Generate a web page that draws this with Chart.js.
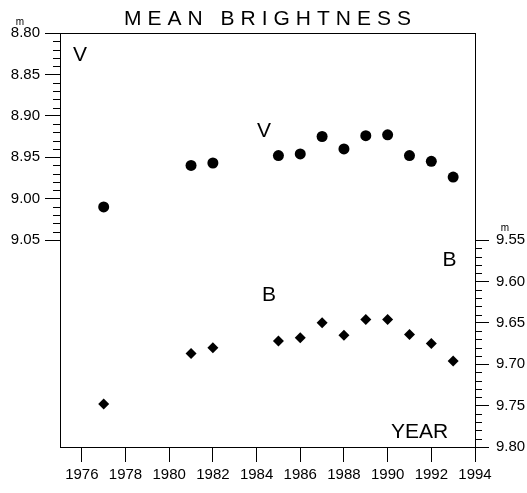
<!DOCTYPE html>
<html>
<head>
<meta charset="utf-8">
<script src="https://cdn.jsdelivr.net/npm/chart.js@4"></script>
<style>
  body { margin: 0; background: #fff; }
</style>
</head>
<body>
<canvas id="chart" width="527" height="493"></canvas>
<script>
// Mean brightness, V and B magnitudes by year
const years = [1977, 1981, 1982, 1985, 1986, 1987, 1988, 1989, 1990, 1991, 1992, 1993];
const vMag = [9.010, 8.960, 8.957, 8.948, 8.946, 8.925, 8.940, 8.924, 8.923, 8.948, 8.955, 8.974];
const bMag = [9.748, 9.687, 9.680, 9.672, 9.668, 9.650, 9.665, 9.646, 9.646, 9.664, 9.675, 9.696];

// tick labels
const xTicks = [1976, 1978, 1980, 1982, 1984, 1986, 1988, 1990, 1992, 1994];
const vTicks = [8.80, 8.85, 8.90, 8.95, 9.00, 9.05];
const bTicks = [9.55, 9.60, 9.65, 9.70, 9.75, 9.80];

const FONT = "'Liberation Sans', Arial, Helvetica, sans-serif";

function setTicks(list) {
    return (scale) => {
        scale.ticks = list.map((v) => ({ value: v }));
    };
}

// minor ticks, title and text labels
const decor = {
    id: "decor",
    afterDraw(chart) {
        const { ctx, chartArea: a, scales } = chart;
        ctx.save();
        ctx.strokeStyle = "#000";
        ctx.lineWidth = 1;

        // top frame line
        ctx.beginPath();
        ctx.moveTo(a.left, a.top + 0.5);
        ctx.lineTo(a.right + 1, a.top + 0.5);
        ctx.stroke();

        // minor ticks every 0.01
        ctx.beginPath();
        for (let i = 0; i <= 25; i++) {
            if (i % 5 === 0) continue;
            let y = Math.round(scales.y.getPixelForValue(8.80 + i * 0.01)) + 0.5;
            ctx.moveTo(a.left - 7, y);
            ctx.lineTo(a.left, y);
            y = Math.round(scales.y2.getPixelForValue(9.55 + i * 0.01)) + 0.5;
            ctx.moveTo(a.right, y);
            ctx.lineTo(a.right + 7, y);
        }
        ctx.stroke();

        ctx.fillStyle = "#000";
        ctx.textBaseline = "middle";

        // title
        ctx.font = "21px " + FONT;
        ctx.letterSpacing = "6px";
        const title = "MEAN BRIGHTNESS";
        const w = ctx.measureText(title).width - 6;
        ctx.textAlign = "left";
        ctx.fillText(title, (a.left + a.right) / 2 - w / 2, 19);
        ctx.letterSpacing = "0px";

        // in-plot labels
        ctx.textAlign = "center";
        ctx.font = "21px " + FONT;
        const sx = scales.x, sy = scales.y, sy2 = scales.y2;
        ctx.fillText("V", sx.getPixelForValue(1975.92), sy.getPixelForValue(8.827));
        ctx.fillText("V", sx.getPixelForValue(1984.34), sy.getPixelForValue(8.918));
        ctx.fillText("B", sx.getPixelForValue(1992.83), sy2.getPixelForValue(9.575));
        ctx.fillText("B", sx.getPixelForValue(1984.57), sy2.getPixelForValue(9.617));
        ctx.fillText("YEAR", sx.getPixelForValue(1991.46), sy2.getPixelForValue(9.782));

        // magnitude marks above the first labels
        ctx.font = "10px " + FONT;
        ctx.fillText("m", 20, sy.getPixelForValue(8.80) - 11);
        ctx.fillText("m", 505, sy2.getPixelForValue(9.55) - 12);
        ctx.restore();
    },
};

const tickFont = { family: FONT, size: 15 };

new Chart(document.getElementById("chart"), {
    type: "scatter",
    data: {
        datasets: [
            {
                label: "V",
                data: years.map((x, i) => ({ x: x, y: vMag[i] })),
                yAxisID: "y",
                pointStyle: "circle",
                pointRadius: 5.5,
                backgroundColor: "#000",
                borderWidth: 0,
            },
            {
                label: "B",
                data: years.map((x, i) => ({ x: x, y: bMag[i] })),
                yAxisID: "y2",
                pointStyle: "rectRot",
                pointRadius: 5.5,
                backgroundColor: "#000",
                borderWidth: 0,
            },
        ],
    },
    options: {
        responsive: false,
        animation: false,
        layout: { padding: { top: 33, left: 0, right: 0, bottom: 0 } },
        plugins: {
            legend: { display: false },
            tooltip: { enabled: false },
        },
        scales: {
            x: {
                type: "linear",
                position: "bottom",
                min: 1975,
                max: 1994,
                afterBuildTicks: setTicks(xTicks),
                afterFit: (s) => { s.height = 46; },
                grid: { drawOnChartArea: false, tickLength: 15, tickColor: "#000" },
                border: { color: "#000", width: 1 },
                ticks: {
                    autoSkip: false,
                    maxRotation: 0,
                    padding: 4,
                    color: "#000",
                    font: tickFont,
                    callback: (v) => String(v),
                },
            },
            y: {
                type: "linear",
                position: "left",
                reverse: true,
                min: 8.80,
                max: 9.30,
                afterBuildTicks: setTicks(vTicks),
                afterFit: (s) => { s.width = 60; },
                grid: { drawOnChartArea: false, tickLength: 15, tickColor: "#000" },
                border: { color: "#000", width: 1 },
                ticks: {
                    autoSkip: false,
                    padding: 5,
                    color: "#000",
                    font: tickFont,
                    callback: (v) => v.toFixed(2),
                },
            },
            y2: {
                type: "linear",
                position: "right",
                reverse: true,
                min: 9.30,
                max: 9.80,
                afterBuildTicks: setTicks(bTicks),
                afterFit: (s) => { s.width = 52; },
                grid: { drawOnChartArea: false, tickLength: 14, tickColor: "#000" },
                border: { color: "#000", width: 1 },
                ticks: {
                    autoSkip: false,
                    padding: 7,
                    color: "#000",
                    font: tickFont,
                    callback: (v) => v.toFixed(2),
                },
            },
        },
    },
    plugins: [decor],
});
</script>
</body>
</html>
